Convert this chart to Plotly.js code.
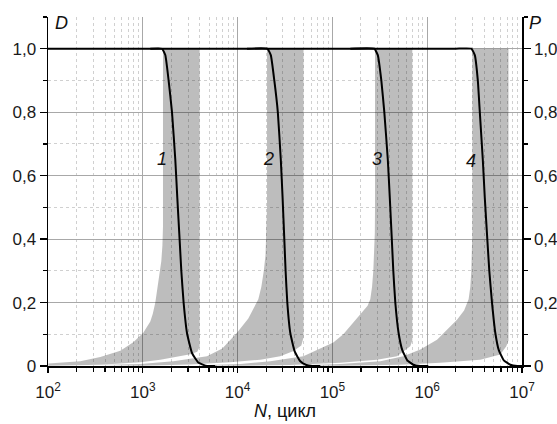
<!DOCTYPE html>
<html>
<head>
<meta charset="utf-8">
<script src="https://cdn.plot.ly/plotly-3.0.1.min.js"></script>
<style>html,body{margin:0;padding:0;background:#fff;}#chart{width:557px;height:424px;}</style>
</head>
<body>
<div id="chart"></div>
<script>
// ---- data (N in cycles, P/D probabilities) ----
const band1UpperN = [101, 219, 356, 579, 794, 1012, 1200, 1275, 1355, 1422, 1493, 1567, 1610, 1633, 1633];
const band1UpperP = [0.008, 0.015, 0.028, 0.048, 0.075, 0.105, 0.14, 0.165, 0.2, 0.24, 0.28, 0.33, 0.38, 0.44, 1.0];
const band1LowerN = [3972, 3972, 3757, 3172, 2488, 1530, 942, 356, 101];
const band1LowerP = [1.0, 0.06, 0.045, 0.037, 0.031, 0.02, 0.012, 0.004, 0.001];

const band2UpperN = [356, 941, 2097, 3171, 4755, 6896, 9856, 12970, 14800, 16540, 17800, 18900, 19700, 20200, 20430, 20430];
const band2UpperP = [0.003, 0.006, 0.015, 0.022, 0.031, 0.055, 0.105, 0.15, 0.18, 0.21, 0.25, 0.3, 0.35, 0.42, 0.5, 1.0];
const band2LowerN = [49560, 49560, 46980, 38970, 28210, 17360, 8375, 3171, 941];
const band2LowerP = [1.0, 0.09, 0.065, 0.047, 0.031, 0.02, 0.012, 0.005, 0.001];

const band3UpperN = [4042, 10680, 22130, 49320, 102200, 130300, 166200, 206800, 235000, 251000, 262000, 270100, 276000, 280200, 281500, 281500];
const band3UpperP = [0.002, 0.006, 0.015, 0.031, 0.074, 0.1, 0.137, 0.17, 0.19, 0.21, 0.25, 0.3, 0.35, 0.42, 0.5, 1.0];
const band3LowerN = [696300, 696300, 663200, 480200, 295400, 121100, 35960, 10680];
const band3LowerP = [1.0, 0.08, 0.062, 0.031, 0.02, 0.01, 0.003, 0.001];

const band4UpperN = [45860, 121100, 320200, 559700, 845700, 1269000, 2062000, 2450000, 2734000, 2850000, 2920000, 2965000, 2991000, 2991000];
const band4UpperP = [0.002, 0.006, 0.015, 0.031, 0.052, 0.083, 0.146, 0.175, 0.21, 0.25, 0.3, 0.35, 0.42, 1.0];
const band4LowerN = [7200000, 7200000, 6830000, 5903000, 3632000, 1375000, 520300, 121100];
const band4LowerP = [1.0, 0.08, 0.062, 0.036, 0.02, 0.01, 0.004, 0.001];

const curve1N = [1200, 1594, 1727, 1872, 2032, 2202, 2312, 2444, 2548, 2694, 2925, 3304, 3878, 4755, 5820];
const curve1D = [1.0, 1.0, 0.98, 0.9, 0.8, 0.65, 0.53, 0.40, 0.30, 0.20, 0.104, 0.041, 0.01, 0.0, 0.0];
const curve2N = [12570, 20570, 22400, 24390, 26560, 28560, 29830, 31090, 32090, 33440, 35960, 40120, 45860, 53050, 61380, 74550];
const curve2D = [1.0, 1.0, 0.98, 0.9, 0.8, 0.65, 0.53, 0.40, 0.30, 0.20, 0.104, 0.045, 0.015, 0.003, 0.0, 0.0];
const curve3N = [154500, 276700, 301300, 328100, 352800, 384100, 403200, 423200, 438900, 460800, 499300, 546200, 616800, 713600, 845700, 1027000];
const curve3D = [1.0, 1.0, 0.98, 0.9, 0.8, 0.65, 0.53, 0.40, 0.30, 0.20, 0.104, 0.05, 0.018, 0.004, 0.0, 0.0];
const curve4N = [100, 1000, 10000, 100000, 1000000, 2000000, 2920000, 3178000, 3419000, 3589000, 3859000, 4051000, 4305000, 4520000, 4825000, 5231000, 5691000, 6427000, 7526000, 8924000, 10000000];
const curve4D = [1.0, 1.0, 1.0, 1.0, 1.0, 1.0, 1.0, 0.98, 0.9, 0.8, 0.65, 0.53, 0.40, 0.30, 0.20, 0.104, 0.05, 0.018, 0.004, 0.0, 0.0];

const curveLabels = ['1', '2', '3', '4'];
const labelN = [1594, 20930, 295400, 2920000];
const labelD = [0.652, 0.652, 0.652, 0.647];

const xTickVals = [1e2, 1e3, 1e4, 1e5, 1e6, 1e7];
const xTickText = ['10<sup>2</sup>', '10<sup>3</sup>', '10<sup>4</sup>', '10<sup>5</sup>', '10<sup>6</sup>', '10<sup>7</sup>'];
const yTickVals = [0, 0.2, 0.4, 0.6, 0.8, 1.0];
const yTickText = ['0', '0,2', '0,4', '0,6', '0,8', '1,0'];

// ---- traces ----
const bandFill = 'rgba(0,0,0,0.26)';
function band(uN, uP, lN, lP) {
  return {
    x: uN.concat(lN), y: uP.concat(lP),
    type: 'scatter', mode: 'lines', fill: 'toself',
    fillcolor: bandFill, line: {width: 0, color: 'rgba(0,0,0,0)'},
    hoverinfo: 'skip', showlegend: false
  };
}
function curve(n, d) {
  return {x: n, y: d, type: 'scatter', mode: 'lines',
    line: {color: '#000', width: 2, shape: 'spline', smoothing: 0.4},
    hoverinfo: 'skip', showlegend: false};
}
const traces = [
  band(band1UpperN, band1UpperP, band1LowerN, band1LowerP),
  band(band2UpperN, band2UpperP, band2LowerN, band2LowerP),
  band(band3UpperN, band3UpperP, band3LowerN, band3LowerP),
  band(band4UpperN, band4UpperP, band4LowerN, band4LowerP),
  curve(curve1N, curve1D), curve(curve2N, curve2D), curve(curve3N, curve3D), curve(curve4N, curve4D),
  {x: [1e2], y: [0], yaxis: 'y2', type: 'scatter', mode: 'markers', marker: {size: 0, opacity: 0}, hoverinfo: 'skip', showlegend: false}
];

const fam = '"Liberation Sans", Arial, sans-serif';
const font = {family: fam, size: 17, color: '#1a1a1a'};
const majorGrid = '#a8a8a8';
const minorGrid = '#d0d0d0';

const annotations = curveLabels.map((t, i) => ({
  x: Math.log10(labelN[i]), y: labelD[i], xref: 'x', yref: 'y', text: '<i>' + t + '</i>',
  xanchor: 'center', yanchor: 'middle',
  showarrow: false, font: {family: fam, size: 18, color: '#111'}
}));
annotations.push({x: 0.029, y: 0.982, xref: 'paper', yref: 'paper', xanchor: 'center', yanchor: 'middle', text: '<i>D</i>', showarrow: false, font: {family: fam, size: 18, color: '#111'}});
annotations.push({x: 1.027, y: 0.982, xref: 'paper', yref: 'paper', xanchor: 'center', yanchor: 'middle', text: '<i>P</i>', showarrow: false, font: {family: fam, size: 18, color: '#111'}});

const yCommon = {
  range: [0, 1.1], tickmode: 'array', tickvals: yTickVals, ticktext: yTickText,
  ticks: 'outside', ticklen: 7, tickwidth: 1.2, tickcolor: '#000',
  showline: true, linecolor: '#000', linewidth: 1.5, zeroline: false,
  tickfont: font, fixedrange: true
};

const layout = {
  width: 557, height: 424,
  margin: {l: 48, r: 35, t: 17, b: 58, pad: 0},
  paper_bgcolor: '#fff', plot_bgcolor: '#fff',
  font: font,
  xaxis: {
    type: 'log', range: [2, 7], tickmode: 'array', tickvals: xTickVals, ticktext: xTickText,
    ticks: 'outside', ticklen: 5, tickwidth: 1.2, tickcolor: '#000',
    showline: true, linecolor: '#000', linewidth: 1.5, zeroline: false,
    showgrid: true, gridcolor: majorGrid, gridwidth: 1,
    minor: {dtick: 'D1', ticks: 'outside', ticklen: 4, tickcolor: '#000', showgrid: true, gridcolor: minorGrid, griddash: 'dot', gridwidth: 1},
    tickfont: font, ticklabelstandoff: 5,
    title: {text: '<i>N</i>, цикл', font: {family: fam, size: 18, color: '#111'}, standoff: 3}
  },
  yaxis: Object.assign({}, yCommon, {
    showgrid: true, gridcolor: majorGrid, gridwidth: 1,
    minor: {tickmode: 'linear', tick0: 0, dtick: 0.1, ticks: 'outside', ticklen: 4, tickcolor: '#000', showgrid: true, gridcolor: minorGrid, griddash: 'dot', gridwidth: 1}
  }),
  yaxis2: Object.assign({}, yCommon, {
    overlaying: 'y', side: 'right', anchor: 'x', showgrid: false,
    minor: {tickmode: 'linear', tick0: 0, dtick: 0.1, ticks: 'outside', ticklen: 4, tickcolor: '#000', showgrid: false}
  }),
  annotations: annotations,
  showlegend: false
};

Plotly.newPlot('chart', traces, layout, {staticPlot: true, displayModeBar: false});
</script>
</body>
</html>
